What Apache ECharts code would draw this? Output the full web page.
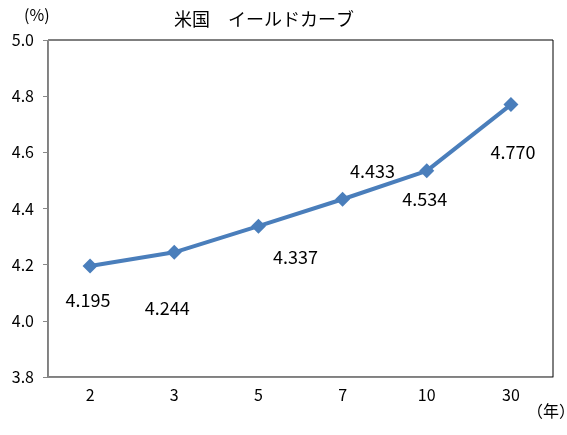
<!DOCTYPE html>
<html><head><meta charset="utf-8">
<script src="https://cdn.jsdelivr.net/npm/echarts@6/dist/echarts.min.js"></script>
<style>html,body{margin:0;padding:0;background:#fff}#c{width:567px;height:435px}</style>
</head><body><div id="c"></div>
<script>
const categories = ['2', '3', '5', '7', '10', '30'];
const yields = [4.195, 4.244, 4.337, 4.433, 4.534, 4.770];
const labelTexts = ['4.195', '4.244', '4.337', '4.433', '4.534', '4.770'];
const labelOffsets = [[-2, 34], [-7, 56], [37, 31], [30, -28], [-2, 28], [2, 48]];
const yTicks = ['3.8', '4.0', '4.2', '4.4', '4.6', '4.8', '5.0'];
const titleText = '米国　イールドカーブ';
const yUnit = '(%)';
const xUnit = '（年）';

const numFont = 'Noto Sans CJK JP';
const jpFont = 'Noto Sans CJK JP';
const chart = echarts.init(document.getElementById('c'), null, {renderer: 'canvas'});
chart.setOption({
  animation: false,
  backgroundColor: '#fff',
  title: {text: titleText, left: 259, top: 5, textAlign: 'center',
    textStyle: {fontFamily: jpFont, fontSize: 18, fontWeight: 'normal', color: '#000'}},
  graphic: [
    {type: 'text', left: 24, top: 7, style: {text: yUnit, font: '16px ' + jpFont, fill: '#000'}},
    {type: 'text', left: 527, top: 403, style: {text: xUnit, font: '16px ' + jpFont, fill: '#000'}}
  ],
  grid: {left: 48, top: 40, width: 505, height: 337, show: true, borderColor: '#000', borderWidth: 1, containLabel: false},
  xAxis: {
    type: 'category', data: categories, boundaryGap: true,
    axisLine: {lineStyle: {color: '#888', width: 1}},
    axisTick: {show: false},
    axisLabel: {margin: 10, fontFamily: numFont, fontSize: 16, color: '#000'}
  },
  yAxis: {
    type: 'value', min: 3.8, max: 5.0, interval: 0.2,
    axisLine: {show: true, lineStyle: {color: '#888', width: 1}},
    axisTick: {show: true, length: 5, lineStyle: {color: '#888'}},
    splitLine: {show: false},
    axisLabel: {margin: 14, fontFamily: numFont, fontSize: 16, color: '#000',
      formatter: v => yTicks[Math.round((v - 3.8) / 0.2)]}
  },
  series: [{
    type: 'line', data: yields.map((v, i) => ({
      value: v,
      label: {show: true, position: 'inside', offset: labelOffsets[i], formatter: labelTexts[i],
        fontFamily: numFont, fontSize: 18, color: '#000'}
    })),
    symbol: 'diamond', symbolSize: 15,
    lineStyle: {color: '#4a7ebb', width: 4},
    itemStyle: {color: '#4a7ebb'}
  }]
});
</script></body></html>
